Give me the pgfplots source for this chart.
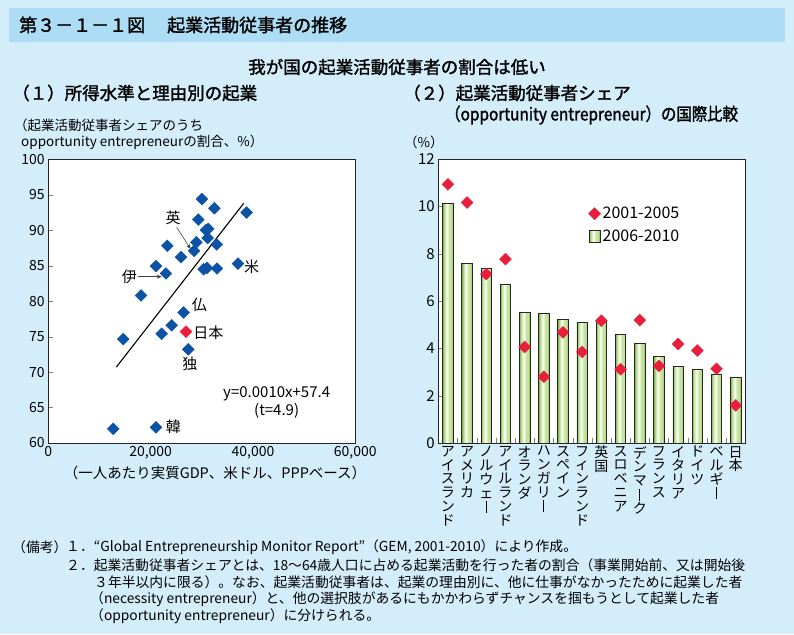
\documentclass[border=0pt]{standalone}
\usepackage{pgfplots}
\pgfplotsset{compat=1.18}
\usetikzlibrary{arrows.meta}
\usepackage{fontspec}
\setmainfont{Noto Sans CJK JP}
\newfontfamily\medfont{Noto Sans CJK JP}[FakeBold=1.6]
\definecolor{bgblue}{RGB}{212,237,250}
\definecolor{bandblue}{RGB}{172,221,245}
\definecolor{mblue}{RGB}{12,82,165}
\definecolor{mred}{RGB}{232,30,60}
\definecolor{gdark}{RGB}{118,178,66}
\definecolor{glight}{RGB}{196,228,156}
\pgfdeclarehorizontalshading{barsh}{100bp}{color(0bp)=(gdark); color(25bp)=(gdark); color(34bp)=(glight); color(46bp)=(white); color(56bp)=(glight); color(66bp)=(glight); color(75bp)=(gdark); color(100bp)=(gdark)}
\newcommand\fs[1]{\fontsize{#1}{#1}\selectfont}
\newcommand\vb{\rule[-1pt]{0.9pt}{12pt}}
\begin{document}
\begin{tikzpicture}
\fill[bgblue] (0,0) rectangle (794pt,634pt);
\path[use as bounding box] (0,0) rectangle (794pt,634pt);
\fill[bandblue] (9pt,626pt) rectangle (785pt,592pt);
\node[anchor=west, inner sep=0pt, font=\fs{18}\medfont] at (19pt,609pt) {第３－１－１図\hspace{22pt}起業活動従事者の推移};
\node[inner sep=0pt, font=\fs{17.5}\medfont] at (397pt,567pt) {我が国の起業活動従事者の割合は低い};
\node[anchor=west, inner sep=0pt, font=\fs{17.5}\medfont] at (12pt,541pt) {（１）所得水準と理由別の起業};
\node[anchor=west, inner sep=0pt, font=\fs{17.5}\medfont] at (403pt,541pt) {（２）起業活動従事者シェア};
\node[anchor=west, inner sep=0pt, font=\fs{17.5}\medfont] at (445pt,519pt) {\scalebox{0.88}[1]{（opportunity entrepreneur）の国際比較}};
\node[anchor=west, inner sep=0pt, font=\fs{13.5}] at (14pt,509pt) {（起業活動従事者シェアのうち};
\node[anchor=west, inner sep=0pt, font=\fs{13.5}] at (21pt,492pt) {opportunity entrepreneurの割合、\%）};
\node[anchor=west, inner sep=0pt, font=\fs{13.5}] at (404pt,492pt) {（\%）};
\node[inner sep=0pt, font=\fs{14.5}] at (215pt,161pt) {（一人あたり実質GDP、米ドル、PPPベース）};
% notes
\node[anchor=west, inner sep=0pt, font=\fs{13.8}] at (12pt,87pt) {（備考）};
\node[anchor=west, inner sep=0pt, font=\fs{13.8}] at (66pt,87pt) {１．“Global Entrepreneurship Monitor Report”（GEM, 2001-2010）により作成。};
\node[anchor=west, inner sep=0pt, font=\fs{13.8}] at (66pt,69pt) {２．起業活動従事者シェアとは、18～64歳人口に占める起業活動を行った者の割合（事業開始前、又は開始後};
\node[anchor=west, inner sep=0pt, font=\fs{13.8}] at (94pt,52pt) {３年半以内に限る）。なお、起業活動従事者は、起業の理由別に、他に仕事がなかったために起業した者};
\node[anchor=west, inner sep=0pt, font=\fs{13.8}] at (90pt,35pt) {（necessity entrepreneur）と、他の選択肢があるにもかかわらずチャンスを掴もうとして起業した者};
\node[anchor=west, inner sep=0pt, font=\fs{13.8}] at (90pt,18pt) {（opportunity entrepreneur）に分けられる。};

% ---------- left scatter ----------
\begin{axis}[at={(48.3pt,191pt)}, anchor=south west, scale only axis,
  width=307pt, height=283.7pt,
  xmin=0, xmax=60000, ymin=60, ymax=100,
  xtick={0,20000,40000,60000}, xticklabels={0,{20,000},{40,000},{60,000}},
  scaled x ticks=false,
  ytick={60,65,...,100},
  tick align=inside, major tick length=5pt,
  ytick pos=left, xtick pos=bottom, xtick style={draw=none},
  tick label style={font=\fs{14}}, /pgf/number format/assume math mode=true,
  axis background/.style={fill=white},
  axis line style={line width=0.9pt, black!85},
  clip=false]
\addplot[only marks, mark=square*, mark size=4.2pt, mark options={rotate=45, fill=mblue, draw=mblue}] coordinates {
(30000,94.4) (32450,93.1) (38770,92.5) (29320,91.5) (31270,90.2) (30820,90.0)
(28930,88.3) (31150,88.9) (32910,88.0) (28480,87.1) (23260,87.8) (25940,86.2)
(21050,84.95) (23000,83.9) (30370,84.5) (31020,84.7) (32970,84.6) (37070,85.3)
(18120,80.8) (26460,78.4) (24120,76.6) (22160,75.4) (14660,74.65) (27360,73.2)
(12700,62.0) (21050,62.2)};
\addplot[only marks, mark=square*, mark size=4.2pt, mark options={rotate=45, fill=mred, draw=mred}] coordinates {(26910,75.7)};
\addplot[black, line width=1.1pt] coordinates {(13300,70.7) (38200,93.8)};
\node[font=\fs{15}] at (axis cs:24400,91.7) {英};
\draw[-{Stealth[length=5pt,width=4pt]}, black!75, line width=0.6pt] (axis cs:25100,90.4) -- (axis cs:27830,87.35);
\node[font=\fs{15}] at (axis cs:15830,83.4) {伊};
\draw[-{Stealth[length=5pt,width=4pt]}, black!75, line width=0.6pt] (axis cs:17590,83.45) -- (axis cs:22160,83.45);
\node[font=\fs{15}] at (axis cs:39740,84.8) {米};
\node[font=\fs{15}] at (axis cs:29510,79.45) {仏};
\node[font=\fs{15}, anchor=west, inner sep=0pt] at (axis cs:28300,75.6) {日本};
\node[font=\fs{15}] at (axis cs:27690,71.1) {独};
\node[font=\fs{15}] at (axis cs:24430,62.3) {韓};
\node[font=\fs{15}] at (axis cs:44630,66.9) {y=0.0010x+57.4};
\node[font=\fs{15}] at (axis cs:44630,64.55) {(t=4.9)};
\end{axis}

% ---------- right bars ----------
\begin{axis}[at={(438.3pt,191pt)}, anchor=south west, scale only axis,
  width=307pt, height=283.7pt,
  xmin=-0.5, xmax=15.5, ymin=0, ymax=12,
  ytick={0,2,...,12},
  xtick={0,...,15},
  xticklabels={{ア\\イ\\ス\\ラ\\ン\\ド},{ア\\メ\\リ\\カ},{ノ\\ル\\ウ\\ェ\\\vb},{ア\\イ\\ル\\ラ\\ン\\ド},{オ\\ラ\\ン\\ダ},{ハ\\ン\\ガ\\リ\\\vb},{ス\\ペ\\イ\\ン},{フ\\ィ\\ン\\ラ\\ン\\ド},{英\\国},{ス\\ロ\\ベ\\ニ\\ア},{デ\\ン\\マ\\\vb\\ク},{フ\\ラ\\ン\\ス},{イ\\タ\\リ\\ア},{ド\\イ\\ツ},{ベ\\ル\\ギ\\\vb},{日\\本}},
  minor xtick={0.5,1.5,...,14.5},
  tick align=inside, major tick length=5pt, minor tick length=5pt,
  major x tick style={draw=none},
  ytick pos=left, xtick pos=bottom,
  yticklabel style={font=\fs{15}}, /pgf/number format/assume math mode=true,
  xticklabel style={font=\fontsize{14}{13.8}\selectfont, align=center, anchor=north, inner sep=1pt, yshift=-2pt},
  axis background/.style={fill=white},
  axis line style={line width=0.9pt, black!85},
  legend style={draw=none, fill=none, at={(0.488,0.839)}, anchor=north west, font=\fs{16}, row sep=6pt, inner sep=0pt},
  legend cell align=left]
\addplot[ybar, bar width=10.5pt, draw=black!85, line width=0.8pt, shading=barsh, forget plot] coordinates {(0,10.14)};
\addplot[ybar, bar width=10.5pt, draw=black!85, line width=0.8pt, shading=barsh, forget plot] coordinates {(1,7.58)};
\addplot[ybar, bar width=10.5pt, draw=black!85, line width=0.8pt, shading=barsh, forget plot] coordinates {(2,7.39)};
\addplot[ybar, bar width=10.5pt, draw=black!85, line width=0.8pt, shading=barsh, forget plot] coordinates {(3,6.71)};
\addplot[ybar, bar width=10.5pt, draw=black!85, line width=0.8pt, shading=barsh, forget plot] coordinates {(4,5.53)};
\addplot[ybar, bar width=10.5pt, draw=black!85, line width=0.8pt, shading=barsh, forget plot] coordinates {(5,5.49)};
\addplot[ybar, bar width=10.5pt, draw=black!85, line width=0.8pt, shading=barsh, forget plot] coordinates {(6,5.23)};
\addplot[ybar, bar width=10.5pt, draw=black!85, line width=0.8pt, shading=barsh, forget plot] coordinates {(7,5.11)};
\addplot[ybar, bar width=10.5pt, draw=black!85, line width=0.8pt, shading=barsh, forget plot] coordinates {(8,5.11)};
\addplot[ybar, bar width=10.5pt, draw=black!85, line width=0.8pt, shading=barsh, forget plot] coordinates {(9,4.60)};
\addplot[ybar, bar width=10.5pt, draw=black!85, line width=0.8pt, shading=barsh, forget plot] coordinates {(10,4.22)};
\addplot[ybar, bar width=10.5pt, draw=black!85, line width=0.8pt, shading=barsh, forget plot] coordinates {(11,3.67)};
\addplot[ybar, bar width=10.5pt, draw=black!85, line width=0.8pt, shading=barsh, forget plot] coordinates {(12,3.24)};
\addplot[ybar, bar width=10.5pt, draw=black!85, line width=0.8pt, shading=barsh, forget plot] coordinates {(13,3.12)};
\addplot[ybar, bar width=10.5pt, draw=black!85, line width=0.8pt, shading=barsh, forget plot] coordinates {(14,2.91)};
\addplot[ybar, bar width=10.5pt, draw=black!85, line width=0.8pt, shading=barsh, forget plot] coordinates {(15,2.78)};
\addplot[only marks, mark=square*, mark size=4.2pt, mark options={rotate=45, fill=mred, draw=mred}, forget plot] coordinates {
(0,10.94) (1,10.17) (2,7.14) (3,7.78) (4,4.06) (5,2.80) (6,4.68) (7,3.85)
(8,5.17) (9,3.12) (10,5.20) (11,3.26) (12,4.19) (13,3.91) (14,3.14) (15,1.59)};
\addlegendimage{legend image code/.code={\fill[mred] (6pt,6pt) -- (12pt,0pt) -- (6pt,-6pt) -- (0pt,0pt) -- cycle;}}
\addlegendentry{2001-2005}
\addlegendimage{legend image code/.code={\draw[black!85, line width=0.8pt, shading=barsh] (0.5pt,-6pt) rectangle (11.5pt,6pt);}}
\addlegendentry{2006-2010}
\end{axis}
\end{tikzpicture}
\end{document}
